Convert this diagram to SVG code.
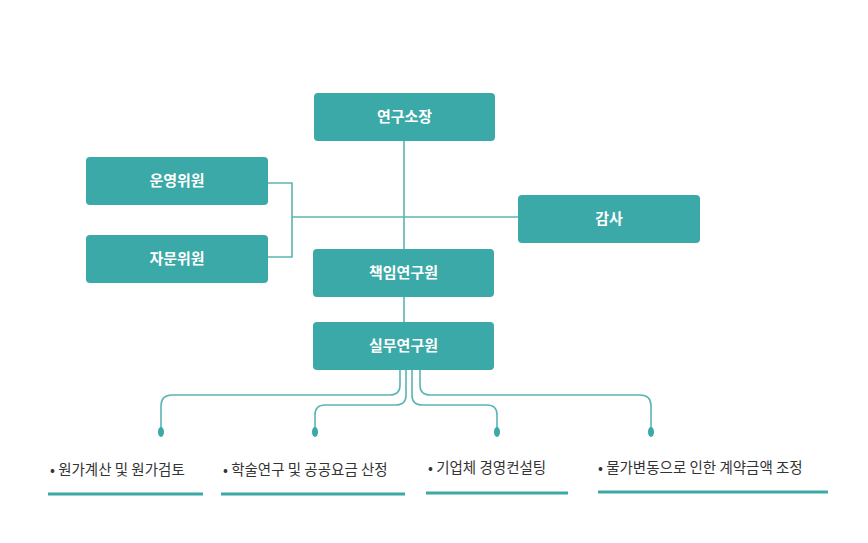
<svg xmlns="http://www.w3.org/2000/svg" width="868" height="543" viewBox="0 0 868 543">
<style>
.b{fill:#3aa9a8}
.t{font-family:"Noto Sans CJK KR",sans-serif;font-size:15px;font-weight:bold;fill:#fff;text-anchor:middle}
.l{font-family:"Noto Sans CJK KR",sans-serif;font-size:14.5px;fill:#333}
.c{fill:none;stroke:#5bb5b4;stroke-width:1.6}
.u{stroke:#3aa9a8;stroke-width:3}
.d{fill:#3aa9a8}
</style>
<rect width="868" height="543" fill="#fff"/>
<g id="connectors">
<path class="c" d="M404 141V322M292 217H518M268 183H292V257H268"/>
<path class="c" d="M400 370V385Q400 395 390 395H172Q161 395 161 406V430"/>
<path class="c" d="M406 370V395Q406 405 396 405H325Q315 405 315 415V430"/>
<path class="c" d="M412 370V395Q412 405 422 405H487Q497 405 497 415V430"/>
<path class="c" d="M420 370V385Q420 395 430 395H640Q651 395 651 406V430"/>
<ellipse class="d" cx="161" cy="432" rx="3" ry="5"/>
<ellipse class="d" cx="315" cy="432" rx="3" ry="5"/>
<ellipse class="d" cx="497" cy="432" rx="3" ry="5"/>
<ellipse class="d" cx="651" cy="432" rx="3" ry="5"/>
</g>
<g id="n1"><rect class="b" x="314" y="93" width="181" height="48" rx="4"/><text class="t" x="404.5" y="122">연구소장</text></g>
<g id="n2"><rect class="b" x="86" y="157" width="182" height="48" rx="4"/><text class="t" x="177" y="186">운영위원</text></g>
<g id="n3"><rect class="b" x="86" y="235" width="182" height="48" rx="4"/><text class="t" x="177" y="264">자문위원</text></g>
<g id="n4"><rect class="b" x="518" y="195" width="182" height="48" rx="4"/><text class="t" x="609" y="224">감사</text></g>
<g id="n5"><rect class="b" x="313" y="249" width="181" height="48" rx="4"/><text class="t" x="403.5" y="278">책임연구원</text></g>
<g id="n6"><rect class="b" x="313" y="322" width="181" height="48" rx="4"/><text class="t" x="403.5" y="351">실무연구원</text></g>
<g id="i1"><text class="l" x="50" y="475">• 원가계산 및 원가검토</text><line class="u" x1="48" y1="494" x2="203" y2="494"/></g>
<g id="i2"><text class="l" x="223" y="475">• 학술연구 및 공공요금 산정</text><line class="u" x1="221" y1="494" x2="405" y2="494"/></g>
<g id="i3"><text class="l" x="428" y="473">• 기업체 경영컨설팅</text><line class="u" x1="426" y1="493" x2="568" y2="493"/></g>
<g id="i4"><text class="l" x="598" y="473">• 물가변동으로 인한 계약금액 조정</text><line class="u" x1="598" y1="492" x2="828" y2="492"/></g>
</svg>
